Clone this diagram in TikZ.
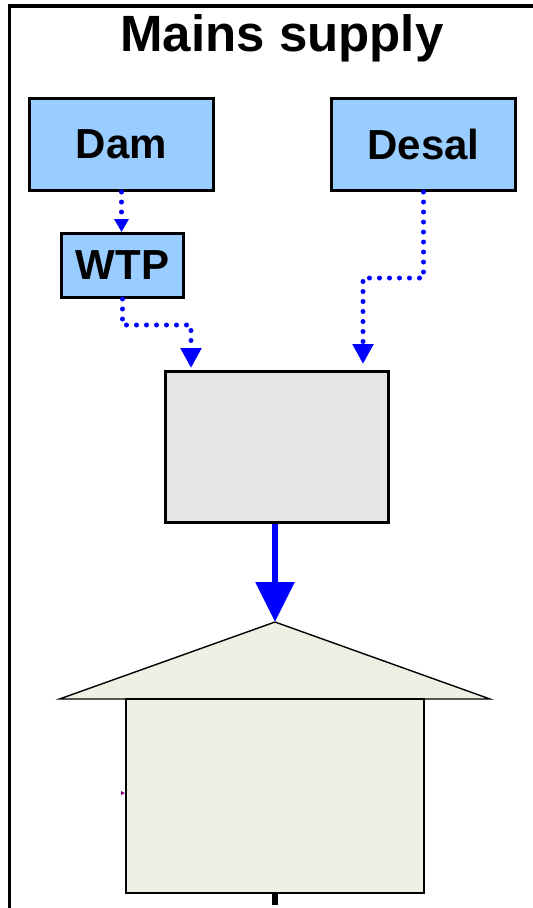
\documentclass[tikz,border=0pt]{standalone}
\usepackage{fontspec}
\setmainfont{Liberation Sans}
\usetikzlibrary{arrows.meta,calc,positioning}
\definecolor{boxblue}{RGB}{153,204,255}
\definecolor{mixgray}{RGB}{229,229,229}
\definecolor{housefill}{RGB}{238,240,228}
\definecolor{flowblue}{RGB}{0,0,255}
\definecolor{markpurple}{RGB}{128,0,128}
\tikzset{
  source/.style={draw, line width=3pt, fill=boxblue, inner sep=0pt,
    font=\fontsize{42}{42}\selectfont\bfseries},
  dotflow/.style={flowblue, line width=5pt, line cap=round, dash pattern=on 0pt off 10pt},
}

\begin{document}
\begin{tikzpicture}[x=1pt, y=-1pt]
    \useasboundingbox (0,0) rectangle (533,908);
    % frame
    \draw [line width=3.5pt] (9.5,912) -- (9.5,6) -- (540,6);
    \node [font=\fontsize{51}{51}\selectfont\bfseries] (title) at (282,38) {Mains supply};
    \node [source, minimum width=184pt, minimum height=92pt] (dam) at (121.5,144.5) {Dam};
    \node [source, minimum width=184pt, minimum height=92pt] (desal) at (423.5,144.5) {Desal};
    \node [source, minimum width=122pt, minimum height=64pt] (wtp) at (122.5,265.5) {WTP};
    \node [draw, line width=3pt, fill=mixgray, minimum width=223pt, minimum height=151pt] (mix) at (277,447) {};
    % house
    \coordinate (apex) at (275,622);
    \filldraw [fill=housefill, draw=black, line width=1.4pt] (apex) -- (59.5,699) -- (490,699) -- cycle;
    \node [draw, line width=1.4pt, fill=housefill, minimum width=298pt, minimum height=194pt] (body) at (275,796) {};
    \fill [markpurple] (121,791) -- (125,793) -- (121,795) -- cycle;
    \draw [line width=6pt] (body.south) -- ++(0,11);
    % flows
    \draw [dotflow, -{Triangle[width=14pt,length=13pt]}] (dam.south) -- (dam.south |- wtp.north);
    \draw [dotflow, -{Triangle[width=20pt,length=20pt]}] (wtp.south) -- ++(0,26) -| ($(mix.north west)+(27,-2)$);
    \draw [dotflow, -{Triangle[width=20pt,length=20pt]}] (desal.south) -- ++(0,86) -| ($(mix.north east)+(-27,-6)$);
    \draw [flowblue, line width=6pt, -{Triangle[width=38pt,length=40pt]}] (apex |- mix.south) -- (apex);
\end{tikzpicture}
\end{document}
